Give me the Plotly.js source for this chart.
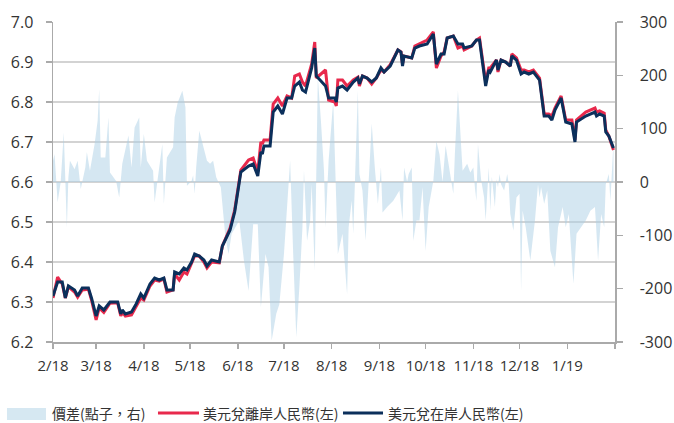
<!DOCTYPE html>
<html>
<head>
<meta charset="utf-8">
<script src="https://cdn.plot.ly/plotly-3.0.1.min.js"></script>
<style>html,body{margin:0;padding:0;background:#fff;}#chart{width:674px;height:423px;}</style>
</head>
<body>
<div id="chart"></div>
<script>
// ---- Data ----
const lineDates = ['2018-02-01','2018-02-04','2018-02-07','2018-02-09','2018-02-11','2018-02-15','2018-02-17','2018-02-20','2018-02-24','2018-02-26',
'2018-03-01','2018-03-03','2018-03-06','2018-03-10','2018-03-15','2018-03-17','2018-03-18','2018-03-20','2018-03-24','2018-03-27','2018-03-30',
'2018-04-01','2018-04-05','2018-04-08','2018-04-11','2018-04-14','2018-04-16','2018-04-20','2018-04-21','2018-04-24','2018-04-27','2018-04-29',
'2018-05-02','2018-05-04','2018-05-07','2018-05-10','2018-05-12','2018-05-15','2018-05-20','2018-05-22','2018-05-27','2018-05-30',
'2018-06-03','2018-06-08','2018-06-11','2018-06-14','2018-06-16','2018-06-17','2018-06-18','2018-06-22','2018-06-24','2018-06-27','2018-06-30',
'2018-07-03','2018-07-06','2018-07-08','2018-07-11','2018-07-13','2018-07-15','2018-07-19','2018-07-21','2018-07-22','2018-07-28','2018-07-30',
'2018-08-03','2018-08-04','2018-08-05','2018-08-08','2018-08-11','2018-08-15','2018-08-18','2018-08-19','2018-08-21','2018-08-24','2018-08-27','2018-08-30',
'2018-09-02','2018-09-04','2018-09-08','2018-09-13','2018-09-15','2018-09-16','2018-09-17','2018-09-22','2018-09-24','2018-09-27',
'2018-10-02','2018-10-06','2018-10-08','2018-10-11','2018-10-13','2018-10-15','2018-10-19','2018-10-22','2018-10-25','2018-10-26','2018-10-31',
'2018-11-03','2018-11-05','2018-11-09','2018-11-11','2018-11-12','2018-11-16','2018-11-17','2018-11-19','2018-11-22','2018-11-25','2018-11-26','2018-11-29',
'2018-12-02','2018-12-04','2018-12-07','2018-12-10','2018-12-14','2018-12-17','2018-12-20','2018-12-22','2018-12-24','2018-12-28','2018-12-31',
'2019-01-04','2019-01-06','2019-01-07','2019-01-13','2019-01-19','2019-01-20','2019-01-22','2019-01-25','2019-01-26','2019-01-28','2019-01-31'];

const onshoreCNY = [6.315,6.35,6.35,6.31,6.34,6.33,6.315,6.335,6.335,6.31,
6.265,6.29,6.28,6.30,6.30,6.27,6.28,6.27,6.275,6.295,6.32,
6.31,6.345,6.36,6.355,6.36,6.33,6.33,6.375,6.37,6.385,6.38,
6.40,6.42,6.415,6.405,6.39,6.405,6.40,6.44,6.48,6.525,
6.625,6.64,6.645,6.615,6.675,6.67,6.69,6.69,6.775,6.79,6.77,
6.81,6.81,6.84,6.85,6.83,6.825,6.885,6.935,6.865,6.84,6.81,
6.81,6.80,6.835,6.84,6.83,6.85,6.86,6.845,6.865,6.86,6.85,6.86,
6.885,6.875,6.89,6.93,6.925,6.89,6.915,6.91,6.935,6.94,
6.945,6.97,6.895,6.92,6.92,6.96,6.965,6.945,6.945,6.935,6.94,
6.955,6.955,6.84,6.88,6.875,6.905,6.88,6.905,6.90,6.89,6.915,6.905,
6.87,6.875,6.87,6.875,6.855,6.765,6.765,6.755,6.78,6.81,6.75,
6.745,6.70,6.75,6.765,6.775,6.765,6.77,6.765,6.725,6.715,6.685];

const offshoreCNH = [6.31,6.362,6.345,6.31,6.338,6.325,6.312,6.33,6.332,6.305,
6.255,6.285,6.274,6.297,6.298,6.265,6.275,6.265,6.268,6.29,6.31,
6.305,6.34,6.355,6.352,6.358,6.325,6.33,6.37,6.355,6.375,6.37,
6.395,6.415,6.415,6.40,6.385,6.40,6.398,6.44,6.485,6.53,
6.63,6.655,6.66,6.625,6.70,6.695,6.705,6.705,6.795,6.81,6.79,
6.815,6.81,6.865,6.87,6.85,6.84,6.895,6.95,6.86,6.88,6.805,
6.80,6.79,6.855,6.855,6.84,6.855,6.862,6.84,6.865,6.86,6.845,6.86,
6.88,6.875,6.893,6.93,6.925,6.895,6.915,6.91,6.94,6.945,
6.955,6.975,6.885,6.915,6.925,6.96,6.965,6.935,6.94,6.93,6.94,
6.955,6.96,6.85,6.885,6.885,6.905,6.875,6.905,6.90,6.89,6.92,6.91,
6.88,6.88,6.875,6.88,6.86,6.77,6.77,6.765,6.785,6.815,6.755,
6.755,6.705,6.755,6.775,6.785,6.775,6.778,6.772,6.73,6.715,6.68];

const spreadDates = ['2018-02-01','2018-02-02','2018-02-04','2018-02-06','2018-02-08','2018-02-10','2018-02-11','2018-02-12','2018-02-15','2018-02-17','2018-02-19','2018-02-22','2018-02-23','2018-02-25','2018-02-28',
'2018-03-02','2018-03-03','2018-03-04','2018-03-07','2018-03-09','2018-03-10','2018-03-14','2018-03-16','2018-03-18','2018-03-22','2018-03-24','2018-03-26','2018-03-29','2018-03-30',
'2018-04-01','2018-04-03','2018-04-07','2018-04-08','2018-04-11','2018-04-13','2018-04-14','2018-04-16','2018-04-20','2018-04-21','2018-04-23','2018-04-26','2018-04-28','2018-04-29',
'2018-05-02','2018-05-03','2018-05-04','2018-05-05','2018-05-07','2018-05-10','2018-05-12','2018-05-14','2018-05-16','2018-05-18','2018-05-21','2018-05-24','2018-05-26','2018-05-28',
'2018-06-02','2018-06-05','2018-06-08','2018-06-11','2018-06-14','2018-06-16','2018-06-19','2018-06-21','2018-06-23','2018-06-26','2018-06-28',
'2018-07-01','2018-07-04','2018-07-05','2018-07-07','2018-07-09','2018-07-11','2018-07-13','2018-07-14','2018-07-16','2018-07-18','2018-07-19','2018-07-21','2018-07-23','2018-07-25','2018-07-27','2018-07-28','2018-07-30',
'2018-08-02','2018-08-04','2018-08-05','2018-08-08','2018-08-11','2018-08-12','2018-08-14','2018-08-15','2018-08-16','2018-08-18','2018-08-19','2018-08-21','2018-08-23','2018-08-25','2018-08-27','2018-08-29','2018-08-30','2018-08-31',
'2018-09-02','2018-09-03','2018-09-06','2018-09-10','2018-09-14','2018-09-16','2018-09-17','2018-09-19','2018-09-20','2018-09-22','2018-09-23','2018-09-25','2018-09-27','2018-09-29',
'2018-10-01','2018-10-03','2018-10-06','2018-10-08','2018-10-10','2018-10-12','2018-10-14','2018-10-17','2018-10-19','2018-10-20','2018-10-22','2018-10-25','2018-10-28','2018-10-30',
'2018-11-01','2018-11-02','2018-11-03','2018-11-04','2018-11-06','2018-11-08','2018-11-09','2018-11-11','2018-11-12','2018-11-13','2018-11-15','2018-11-16','2018-11-17','2018-11-18','2018-11-19','2018-11-21','2018-11-23','2018-11-24','2018-11-25','2018-11-27','2018-11-29',
'2018-12-01','2018-12-02','2018-12-03','2018-12-05','2018-12-08','2018-12-11','2018-12-13','2018-12-14','2018-12-15','2018-12-17','2018-12-19','2018-12-21','2018-12-24','2018-12-26','2018-12-29','2018-12-31',
'2019-01-02','2019-01-05','2019-01-07','2019-01-10','2019-01-13','2019-01-16','2019-01-19','2019-01-21','2019-01-23','2019-01-25','2019-01-26','2019-01-28','2019-01-29','2019-01-31'];

const spreadPips = [40,52,-38,0,93,-85,9,40,24,40,-13,27,56,21,71,
115,174,46,46,121,18,2,-29,34,87,27,102,121,27,
90,40,21,-38,34,71,-41,46,65,121,149,171,140,-7,
2,12,-22,27,96,59,40,34,40,9,-10,-104,-135,-97,
-72,-147,-204,-79,-79,-235,-135,-160,-297,-247,-229,
-135,-4,40,-135,-291,-197,-85,21,-110,-72,-4,-166,196,115,21,-85,40,
152,-72,-135,-97,-210,-85,-35,-97,2,171,15,-16,-110,0,109,27,-10,-41,
27,-57,-47,-35,-16,-72,27,0,15,27,-110,-72,-72,-10,
-129,-47,2,77,52,0,68,9,-22,52,171,21,34,18,
27,-10,-35,71,5,-29,-72,27,-54,10,-47,5,-10,15,-4,-16,15,-4,-60,-91,-29,
-22,-204,-54,-85,-147,-72,-4,-29,-10,-41,-16,-129,-160,-85,-47,-85,
-60,-191,-97,-85,-72,-54,-47,-147,-60,-85,-4,15,-35,74];

const monthTicks = ['2018-02-01','2018-03-01','2018-04-01','2018-05-01','2018-06-01','2018-07-01','2018-08-01','2018-09-01','2018-10-01','2018-11-01','2018-12-01','2019-01-01','2019-02-01'];
const monthLabels = ['2/18','3/18','4/18','5/18','6/18','7/18','8/18','9/18','10/18','11/18','12/18','1/19',''];
const rightTicks = [-300,-200,-100,0,100,200,300];
const rightLabels = ['-300','-200','-100','0','100','200','300'];
const seriesNames = ['價差(點子，右)','美元兌離岸人民幣(左)','美元兌在岸人民幣(左)'];
const seriesColors = ['rgba(172,208,230,0.5)', '#e8294c', '#0b2f5b'];

const FONT = 'Open Sans, Noto Sans CJK TC, sans-serif';
const LFONT = 'Noto Sans CJK TC, Open Sans, sans-serif';

const traces = [
  {x: spreadDates, y: spreadPips, name: seriesNames[0], type: 'scatter', mode: 'lines',
   fill: 'tozeroy', fillcolor: seriesColors[0], line: {width: 0, color: seriesColors[0]},
   xaxis: 'x', yaxis: 'y'},
  {x: lineDates, y: offshoreCNH, name: seriesNames[1], type: 'scatter', mode: 'lines',
   line: {color: seriesColors[1], width: 3}, xaxis: 'x', yaxis: 'y2'},
  {x: lineDates, y: onshoreCNY, name: seriesNames[2], type: 'scatter', mode: 'lines',
   line: {color: seriesColors[2], width: 3}, xaxis: 'x', yaxis: 'y2'}
];

// custom legend (positions in paper coordinates)
const legY = -0.222;
const shapes = [
  {type: 'rect', xref: 'paper', yref: 'paper', x0: -0.0819, x1: -0.0125, y0: -0.244, y1: -0.2065,
   fillcolor: 'rgb(214,232,242)', line: {width: 0}},
  {type: 'line', xref: 'paper', yref: 'paper', x0: 0.1868, x1: 0.2598, y0: legY, y1: legY,
   line: {color: seriesColors[1], width: 3}},
  {type: 'line', xref: 'paper', yref: 'paper', x0: 0.516, x1: 0.5872, y0: legY, y1: legY,
   line: {color: seriesColors[2], width: 3}}
];
const legX = [-0.0036, 0.2651, 0.5943];
const annotations = seriesNames.map((n, i) => ({
  text: n, xref: 'paper', yref: 'paper', x: legX[i], y: legY, xanchor: 'left', yanchor: 'middle',
  showarrow: false, borderpad: 0, font: {family: LFONT, size: 14, color: '#333'}
}));

const layout = {
  width: 674, height: 423,
  margin: {l: 53, r: 59, t: 22, b: 81, pad: 0},
  paper_bgcolor: '#fff', plot_bgcolor: '#fff',
  font: {family: FONT, size: 16, color: '#333'},
  showlegend: false,
  shapes: shapes, annotations: annotations,
  xaxis: {type: 'date', range: ['2018-02-01', '2019-02-01'],
          tickmode: 'array', tickvals: monthTicks, ticktext: monthLabels,
          showgrid: false, zeroline: false, showline: true, linecolor: '#aaa', linewidth: 1.5,
          ticks: 'outside', ticklen: 5, tickcolor: '#aaa', tickwidth: 1.5, ticklabelstandoff: 4,
          tickfont: {family: FONT, size: 15, color: '#333'}},
  yaxis: {range: [-300, 300], side: 'right', tickmode: 'array', tickvals: rightTicks, ticktext: rightLabels,
          showgrid: false, zeroline: false, showline: true, linecolor: '#aaa', linewidth: 1.5,
          ticks: 'outside', ticklen: 6, tickcolor: '#aaa', tickwidth: 1.5, ticklabelstandoff: 14,
          tickfont: {family: FONT, size: 16, color: '#333'}},
  yaxis2: {range: [6.2, 7.0], side: 'left', overlaying: 'y', dtick: 0.1, tick0: 6.2, tickformat: '.1f',
           showgrid: true, gridcolor: '#d3d3d3', gridwidth: 1.5, zeroline: false,
           showline: true, linecolor: '#aaa', linewidth: 1.5,
           ticks: 'outside', ticklen: 6, tickcolor: '#aaa', tickwidth: 1.5, ticklabelstandoff: 9,
           tickfont: {family: FONT, size: 16, color: '#333'}}
};

Plotly.newPlot('chart', traces, layout, {displayModeBar: false, staticPlot: true});
</script>
</body>
</html>
